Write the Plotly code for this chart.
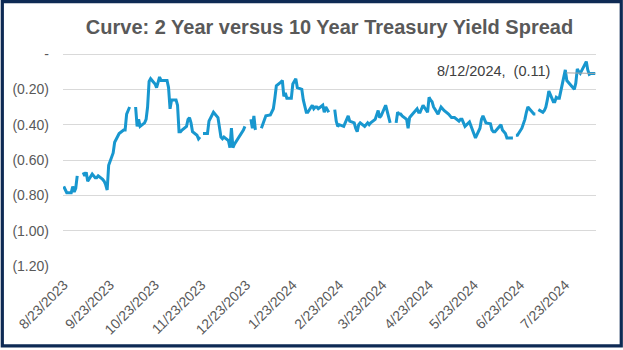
import pandas as pd
import plotly.graph_objects as go

# ---- data: 2Y vs 10Y Treasury spread (percentage points), one row per week Mon..Fri
start_date = "2023-08-23"
end_date = "2024-08-12"
weeks = [
    [-0.75, -0.77, -0.785],                       # Aug 23-25 2023
    [-0.785, -0.75, -0.78, -0.76, -0.69],         # Aug 28
    [None, -0.67, -0.69, -0.67, -0.72],           # Sep 4
    [-0.68, -0.69, -0.70, -0.70, -0.69],          # Sep 11
    [-0.71, -0.72, -0.74, -0.77, -0.63],          # Sep 18
    [-0.56, -0.50, -0.48, -0.47, -0.45],          # Sep 25
    [-0.43, -0.43, -0.34, -0.32, -0.30],          # Oct 2
    [None, -0.30, -0.41, -0.37, -0.41],           # Oct 9
    [-0.39, -0.37, -0.30, -0.155, -0.14],         # Oct 16
    [-0.17, -0.19, -0.16, -0.13, -0.15],          # Oct 23
    [-0.15, -0.15, -0.19, -0.31, -0.26],          # Oct 30
    [-0.26, -0.29, -0.44, -0.44, -0.43],          # Nov 6
    [-0.41, -0.37, -0.36, -0.39, -0.44],          # Nov 13
    [-0.46, -0.48, -0.47, None, -0.45],           # Nov 20
    [-0.45, -0.38, -0.36, -0.34, -0.33],          # Nov 27
    [-0.36, -0.42, -0.47, -0.48, -0.47],          # Dec 4
    [-0.49, -0.53, -0.42, -0.53, -0.51],          # Dec 11
    [-0.47, -0.46, -0.45, -0.43, -0.41],          # Dec 18
    [None, -0.37, -0.42, -0.35, -0.43],           # Dec 25
    [None, -0.42, -0.40, -0.37, -0.35],           # Jan 1 2024
    [-0.345, -0.33, -0.31, -0.25, -0.18],         # Jan 8
    [-0.16, -0.15, -0.24, -0.22, -0.25],          # Jan 15
    [-0.25, -0.17, -0.15, -0.14, -0.19],          # Jan 22
    [-0.20, -0.26, -0.30, -0.33, -0.33],          # Jan 29
    [-0.29, -0.31, -0.30, -0.30, -0.31],          # Feb 5
    [-0.29, -0.33, -0.30, -0.32, -0.33],          # Feb 12
    [None, -0.315, -0.38, -0.41, -0.40],          # Feb 19
    [-0.41, -0.39, -0.37, -0.35, -0.38],          # Feb 26
    [-0.39, -0.42, -0.44, -0.40, -0.39],          # Mar 4
    [-0.41, -0.40, -0.39, -0.40, -0.39],          # Mar 11
    [-0.37, -0.35, -0.32, -0.36, -0.35],          # Mar 18
    [-0.29, -0.32, -0.36, -0.39, None],           # Mar 25
    [-0.39, -0.33, -0.34, -0.34, -0.35],          # Apr 1
    [-0.37, -0.42, -0.36, -0.35, -0.34],          # Apr 8
    [-0.31, -0.33, -0.33, -0.31, -0.29],          # Apr 15
    [-0.33, -0.245, -0.26, -0.27, -0.30],         # Apr 22
    [-0.34, -0.32, -0.30, -0.31, -0.32],          # Apr 29
    [-0.34, -0.35, -0.36, -0.36, -0.36],          # May 6
    [-0.38, -0.37, -0.37, -0.39, -0.41],          # May 13
    [-0.385, -0.41, -0.43, -0.45, -0.475],        # May 20
    [-0.42, -0.37, -0.35, -0.37, -0.39],          # May 27
    [-0.395, -0.43, -0.44, -0.44, -0.43],         # Jun 3
    [-0.40, -0.43, -0.44, -0.45, -0.475],         # Jun 10
    [-0.475, -0.475, None, -0.46, -0.46],         # Jun 17
    [-0.42, -0.40, -0.37, -0.33, -0.30],          # Jun 24
    [-0.33, -0.34, -0.34, None, -0.315],          # Jul 1
    [-0.33, -0.32, -0.30, -0.26, -0.21],          # Jul 8
    [-0.27, -0.27, -0.245, -0.25, -0.25],         # Jul 15
    [-0.13, -0.09, -0.15, -0.16, -0.175],         # Jul 22
    [-0.20, -0.165, -0.085, -0.10, -0.11],        # Jul 29
    [-0.06, -0.043, -0.09, -0.115, -0.11],        # Aug 5
    [-0.11],                                      # Aug 12
]
tick_dates = ["2023-08-23", "2023-09-23", "2023-10-23", "2023-11-23", "2023-12-23",
              "2024-01-23", "2024-02-23", "2024-03-23", "2024-04-23", "2024-05-23",
              "2024-06-23", "2024-07-23"]
y_ticks = [0, -0.2, -0.4, -0.6, -0.8, -1.0, -1.2]
y_labels = ["-", "(0.20)", "(0.40)", "(0.60)", "(0.80)", "(1.00)", "(1.20)"]
title_text = "Curve: 2 Year versus 10 Year Treasury Yield Spread"
label_text = "8/12/2024,  (0.11)"

dates = pd.bdate_range(start_date, end_date)
values = [v for w in weeks for v in w]
assert len(values) == len(dates), (len(values), len(dates))

tick_text = [pd.Timestamp(d).strftime("%-m/%-d/%Y") for d in tick_dates]

W, H = 623, 350
ML, MR, MT, MB = 62, 27, 54, 82
PW, PH = W - ML - MR, H - MT - MB

fig = go.Figure()
fig.add_trace(go.Scatter(
    x=dates, y=values, mode="lines",
    line=dict(color="#1897CF", width=3),
    connectgaps=False, hoverinfo="skip", showlegend=False,
))

font = "Liberation Sans, Arial, sans-serif"
grey = "#595959"
grid = "#D9D9D9"

fig.update_layout(
    width=W, height=H,
    margin=dict(l=ML, r=MR, t=MT, b=MB),
    paper_bgcolor="white", plot_bgcolor="white",
    title=dict(text="<b>" + title_text + "</b>", x=0.5, xref="paper",
               y=1 - 27 / H, yref="container", yanchor="middle", xanchor="center",
               font=dict(family=font, size=20, color=grey)),
    xaxis=dict(type="date",
               range=[pd.Timestamp(start_date) - pd.Timedelta(hours=12),
                      pd.Timestamp(end_date) + pd.Timedelta(hours=12)],
               tickvals=tick_dates, ticktext=tick_text, tickangle=-45,
               showgrid=False, showline=False, zeroline=False, ticks="",
               ticklabelstandoff=7,
               tickfont=dict(family=font, size=14, color=grey)),
    yaxis=dict(range=[-1.2, 0], tickvals=y_ticks, ticktext=y_labels,
               showgrid=True, gridcolor=grid, gridwidth=1,
               zeroline=True, zerolinecolor=grid, zerolinewidth=1,
               showline=False, ticks="", ticklabelstandoff=13,
               tickfont=dict(family=font, size=14, color=grey)),
)

fig.add_annotation(
    x=dates[-1], y=values[-1], text=label_text, showarrow=True,
    arrowhead=0, arrowwidth=1, arrowcolor="#A6A6A6",
    ax=-102, ay=-2, borderpad=16,
    font=dict(family=font, size=14.5, color="#404040"),
)

# navy frame around the whole chart
def px_x(p):
    return (p - ML) / PW

def px_y(p):
    return (H - MB - p) / PH

fig.add_shape(type="rect", xref="paper", yref="paper",
              x0=px_x(1.2), x1=px_x(621.3), y0=px_y(1.2), y1=px_y(348.6),
              line=dict(color="#0E2A54", width=3.2), fillcolor="rgba(0,0,0,0)",
              layer="above")

fig.write_html("out.html")
